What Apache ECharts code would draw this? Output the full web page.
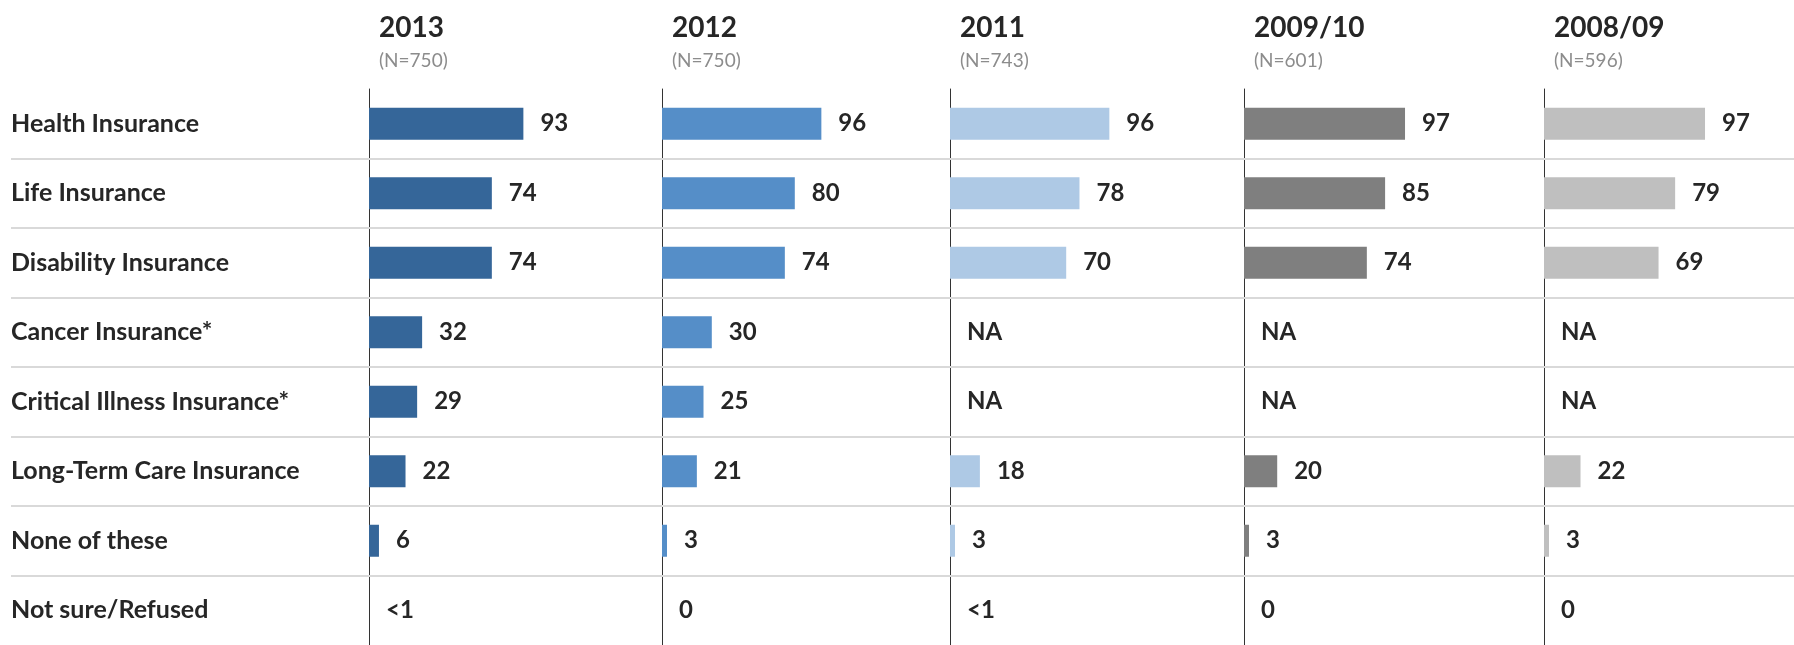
<!DOCTYPE html>
<html>
<head>
<meta charset="utf-8">
<script src="https://cdn.jsdelivr.net/npm/echarts@6/dist/echarts.min.js"></script>
<style>
html,body{margin:0;padding:0;background:#fff;}
#chart{width:1794px;height:645px;}
</style>
</head>
<body>
<div id="chart"></div>
<script>
const categories = ['Health Insurance','Life Insurance','Disability Insurance','Cancer Insurance*','Critical Illness Insurance*','Long-Term Care Insurance','None of these','Not sure/Refused'];
const years = ['2013','2012','2011','2009/10','2008/09'];
const sampleSizes = ['(N=750)','(N=750)','(N=743)','(N=601)','(N=596)'];
const values2013 = [93,74,74,32,29,22,6,'<1'];
const values2012 = [96,80,74,30,25,21,3,0];
const values2011 = [96,78,70,'NA','NA',18,3,'<1'];
const values2009_10 = [97,85,74,'NA','NA',20,3,0];
const values2008_09 = [97,79,69,'NA','NA',22,3,0];
const colors = ['#356699','#558ec8','#aec9e5','#7f7f7f','#bfbfbf'];

const allValues = [values2013, values2012, values2011, values2009_10, values2008_09];
const FONT = 'Lato, "Liberation Sans", sans-serif';
const TEXT = '#262626';
const axisX = [369, 662, 950, 1244, 1544];
const TOP = 89, ROWH = 70.4, PANEL_W = 166;
const GRID_H = ROWH * categories.length;

const grids = [{left: 11, right: 0, top: TOP, height: GRID_H}];
const xAxes = [{gridIndex: 0, type: 'value', min: 0, max: 1, show: false}];
const yAxes = [{gridIndex: 0, type: 'value', min: 0, max: categories.length, inverse: true, show: false}];
const series = [{
  type: 'scatter', xAxisIndex: 0, yAxisIndex: 0, data: [[0, 0]], symbolSize: 0, silent: true,
  markLine: {
    silent: true, symbol: 'none', label: {show: false},
    lineStyle: {color: '#d9d9d9', width: 2, type: 'solid'},
    data: categories.slice(1).map((c, i) => ({yAxis: i + 1}))
  }
}];
const titles = [];

allValues.forEach((vals, i) => {
  const gi = i + 1;
  grids.push({left: axisX[i], width: PANEL_W, top: TOP, height: GRID_H});
  xAxes.push({gridIndex: gi, type: 'value', min: 0, max: 100, show: false});
  yAxes.push({
    gridIndex: gi, type: 'category', data: categories, inverse: true,
    axisLine: {show: true, lineStyle: {color: '#333', width: 1}},
    axisTick: {show: false},
    splitLine: {show: false},
    axisLabel: i === 0 ? {
      show: true, align: 'left', margin: axisX[0] - 11,
      fontFamily: FONT, fontWeight: 'bold', fontSize: 25, color: TEXT
    } : {show: false}
  });
  series.push({
    type: 'bar', xAxisIndex: gi, yAxisIndex: gi, barWidth: 32,
    itemStyle: {color: colors[i]},
    data: vals.map(v => ({value: typeof v === 'number' ? v : 0})),
    label: {
      show: true, position: 'right', distance: 17,
      fontFamily: FONT, fontWeight: 'bold', fontSize: 24, color: TEXT,
      formatter: p => String(vals[p.dataIndex])
    }
  });
  titles.push({
    text: years[i], subtext: sampleSizes[i], left: axisX[i] + 5, top: 9, itemGap: 9,
    textStyle: {fontFamily: FONT, fontWeight: 'bold', fontSize: 28, color: TEXT},
    subtextStyle: {fontFamily: FONT, fontSize: 19, color: '#8c8c8c'}
  });
});

const chart = echarts.init(document.getElementById('chart'));
chart.setOption({
  animation: false,
  backgroundColor: '#fff',
  title: titles,
  grid: grids,
  xAxis: xAxes,
  yAxis: yAxes,
  series: series
});
</script>
</body>
</html>
